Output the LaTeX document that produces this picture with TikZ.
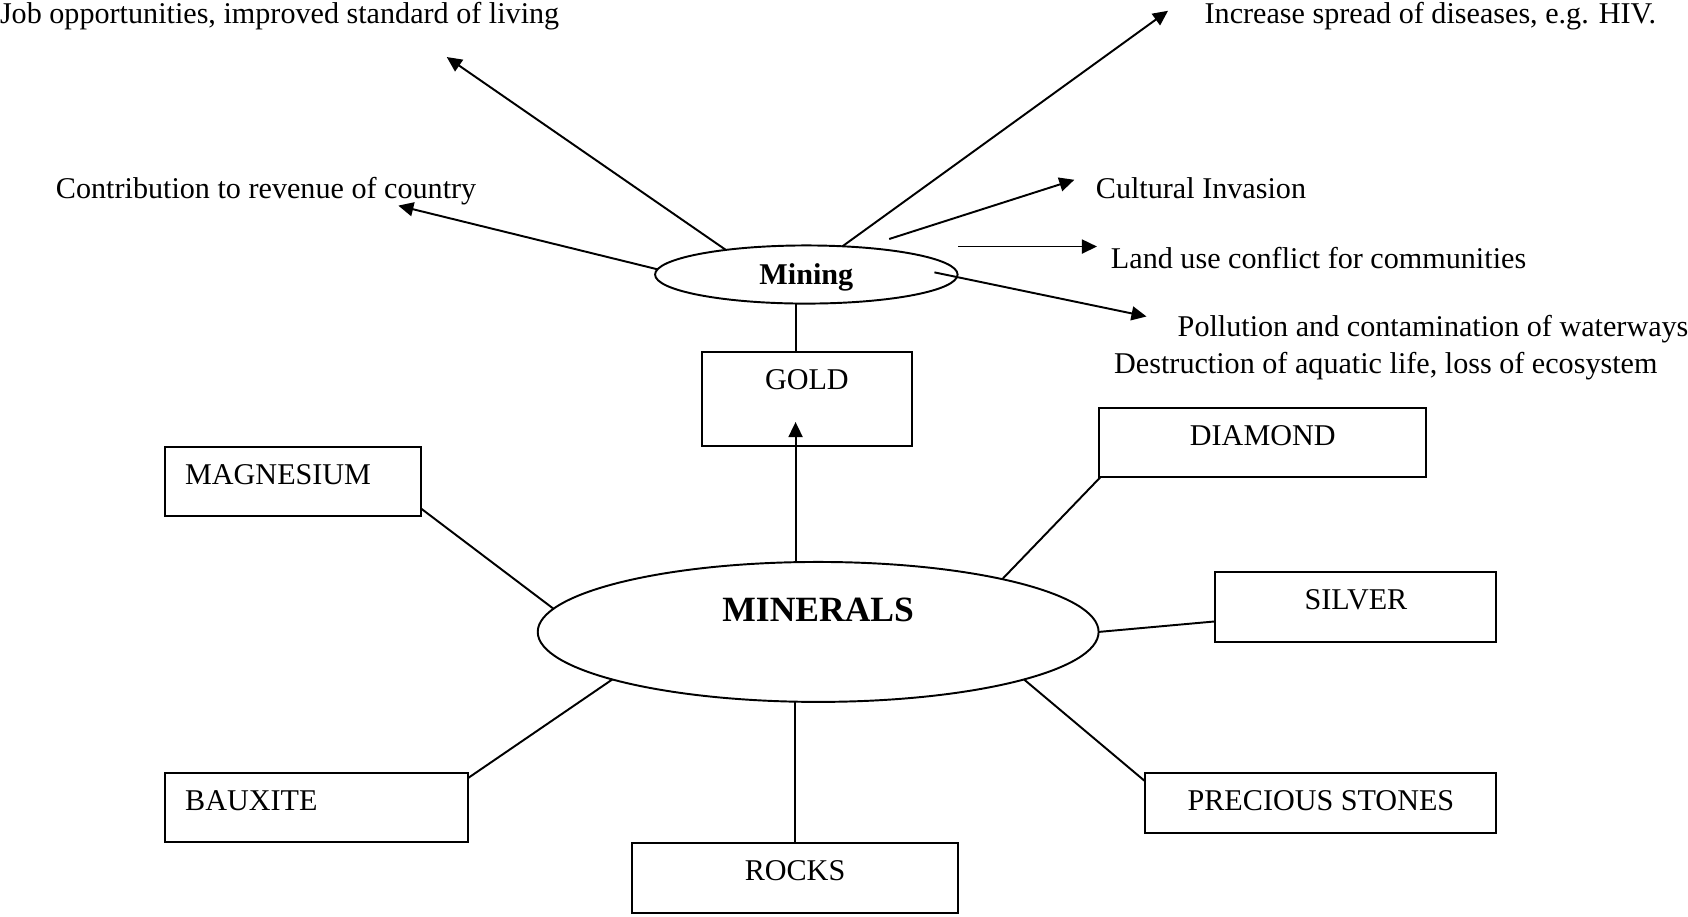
\documentclass[tikz,border=0pt]{standalone}
\usepackage{fontspec}
\setmainfont{Liberation Serif}
\usetikzlibrary{arrows.meta,calc,shapes.geometric}
\begin{document}
\begin{tikzpicture}[x=1pt,y=-1pt,
  every node/.style={inner sep=0pt, outer sep=0pt},
  txt/.style={font=\fontsize{28}{34}\selectfont, anchor=base west},
  boxlbl/.style={font=\fontsize{28}{34}\selectfont, anchor=base},
  boxlblw/.style={font=\fontsize{28}{34}\selectfont, anchor=base west},
  box/.style={draw, line width=1.8pt, rectangle},
  ell/.style={draw, line width=1.8pt, ellipse},
  conn/.style={line width=1.8pt},
  arr/.style={conn, -{Triangle[length=14pt,width=13pt]}}
]
\useasboundingbox (0,0) rectangle (1568,851);

% ellipses
\node[ell, minimum width=281pt, minimum height=54pt, text depth=0pt,
      font=\bfseries\fontsize{28}{34}\selectfont] (mining) at (749,255) {Mining};
\node[ell, minimum width=521pt, minimum height=130pt] (minerals) at (760,587) {};
\node[font=\bfseries\fontsize{33}{40}\selectfont] (mintext) at (760,567) {MINERALS};

% boxes
\node[box, minimum width=195pt, minimum height=87pt] (gold) at (749.5,370.5) {};
\node[box, minimum width=238pt, minimum height=64pt] (magnesium) at (272,447) {};
\node[box, minimum width=304pt, minimum height=64pt] (diamond) at (1173,411) {};
\node[box, minimum width=261pt, minimum height=65pt] (silver) at (1259.5,563.5) {};
\node[box, minimum width=326pt, minimum height=56pt] (precious) at (1227,746) {};
\node[box, minimum width=303pt, minimum height=65pt] (rocks) at (738.5,815.5) {};
\node[box, minimum width=282pt, minimum height=64pt] (bauxite) at (294,750) {};

% box labels
\node[boxlbl] (goldt) at ($(gold.north)+(0,35)$) {GOLD};
\node[boxlblw] (magnesiumt) at ($(magnesium.north west)+(19,35)$) {MAGNESIUM};
\node[boxlbl] (diamondt) at ($(diamond.north)+(0,35)$) {DIAMOND};
\node[boxlbl] (silvert) at ($(silver.north)+(0,35)$) {SILVER};
\node[boxlbl] (precioust) at ($(precious.north)+(0,35)$) {PRECIOUS STONES};
\node[boxlbl] (rockst) at ($(rocks.north)+(0,35)$) {ROCKS};
\node[boxlblw] (bauxitet) at ($(bauxite.north west)+(19,35)$) {BAUXITE};

% outer texts
\node[txt] (job) at (0,22) {Job opportunities, improved standard of living};
\node[txt] (hiv) at (1119,22) {Increase spread of diseases, e.g. HIV.};
\node[txt] (rev) at (52,184) {Contribution to revenue of country};
\node[txt] (cult) at (1018,184) {Cultural Invasion};
\node[txt] (land) at (1032,249) {Land use conflict for communities};
\node[txt] (poll) at (1094,313) {Pollution and contamination of waterways};
\node[txt] (dest) at (1035,347) {Destruction of aquatic life, loss of ecosystem};

% free ends
\coordinate (tJob) at (415,53);
\coordinate (tRev) at (370,191);
\coordinate (tHiv) at (1085,10);
\coordinate (sCult) at (826,222);
\coordinate (tCult) at (998,167);
\coordinate (sLand) at (890,229);
\coordinate (tLand) at (1019,229);
\coordinate (sPoll) at (868,253);
\coordinate (tPoll) at (1065,294);
\coordinate (tGold) at (739,392);

% arrows from Mining
\draw[arr] (mining.163) -- (tJob);
\draw[arr] (mining.178) -- (tRev);
\draw[arr] (mining.38) -- (tHiv);
\draw[arr] (sCult) -- (tCult);
\draw[arr] (sLand) -- (tLand);
\draw[arr] (sPoll) -- (tPoll);

% Mining - gold - minerals
\draw[conn] (mining.south -| tGold) -- (gold.north -| tGold);
\draw[arr] (minerals.north -| tGold) -- (tGold);

% minerals spokes
\draw[conn] (magnesium.348) -- (minerals.175);
\draw[conn] (diamond.192) -- (minerals.16);
\draw[conn] (silver.186) -- (minerals.east);
\draw[conn] (precious.173) -- (minerals.347);
\draw[conn] (rocks.north) -- (rocks.north |- minerals.south);
\draw[conn] (bauxite.11) -- (minerals.193);
\end{tikzpicture}
\end{document}
